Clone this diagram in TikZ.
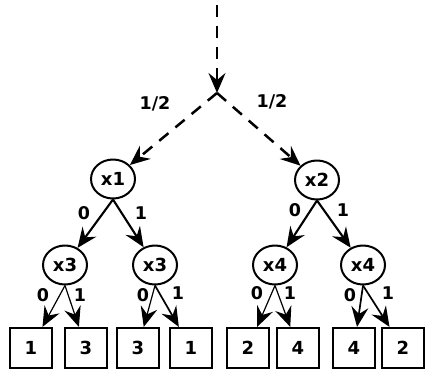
\documentclass[tikz,border=0pt]{standalone}
\usepackage{fontspec}
\setmainfont{DejaVu Sans}
\usetikzlibrary{arrows.meta,shapes.geometric}
\tikzset{
  var/.style={ellipse, draw, line width=2pt, minimum width=44pt, minimum height=39pt,
    inner sep=0pt, font=\fontsize{18}{18}\selectfont\bfseries},
  leaf/.style={rectangle, draw, line width=2.2pt, minimum width=42pt, minimum height=40pt,
    inner sep=0pt, font=\fontsize{18}{18}\selectfont\bfseries},
  lbl/.style={inner sep=0pt, font=\fontsize{17.5}{17.5}\selectfont\bfseries},
  bigarrow/.style={arrows={-Stealth[length=20pt,width=17pt,inset=7pt]}},
  prob/.style={bigarrow, line width=2.5pt, dash pattern=on 12pt off 9pt},
  thick edge/.style={bigarrow, line width=2.1pt},
  thin edge/.style={bigarrow, line width=1.2pt},
  mid edge/.style={bigarrow, line width=1.7pt}
}
\begin{document}
\begin{tikzpicture}[x=1pt,y=-1pt]
\useasboundingbox (0,0) rectangle (425,370);

% incoming edge and the chance split
\coordinate (top) at (217,5);
\coordinate (J) at (217,93);

% decision nodes
\node[var] (x1)  at (113,179) {x1};
\node[var] (x2)  at (317,180) {x2};
\node[var] (x3a) at (65,265)  {x3};
\node[var] (x3b) at (155,265) {x3};
\node[var] (x4a) at (275,265) {x4};
\node[var] (x4b) at (363,265) {x4};

% terminal values
\node[leaf] (l1) at (31,348)  {1};
\node[leaf] (l2) at (86,348)  {3};
\node[leaf] (l3) at (138,348) {3};
\node[leaf] (l4) at (191,348) {1};
\node[leaf] (l5) at (248,348) {2};
\node[leaf] (l6) at (298,348) {4};
\node[leaf] (l7) at (354,348) {4};
\node[leaf] (l8) at (403,348) {2};

% probabilistic branches
\draw[prob] (top) -- (J);
\draw[prob] (J) -- (x1);
\draw[prob] (J) -- (x2);
\node[lbl] (p1) at (155,104) {1/2};
\node[lbl] (p2) at (272,102) {1/2};

% first-level branches
\draw[thick edge] (x1.south) -- (x3a);
\draw[thick edge] (x1.south) -- (x3b);
\draw[thick edge] (x2.south) -- (x4a);
\draw[thick edge] (x2.south) -- (x4b);
\node[lbl] (e1) at (84,213)  {0};
\node[lbl] (e2) at (141,213) {1};
\node[lbl] (e3) at (295,210) {0};
\node[lbl] (e4) at (343,210) {1};

% second-level branches
\draw[thin edge] (x3a.south) -- (l1);
\draw[thin edge] (x3a.south) -- (l2);
\draw[thin edge] (x3b.south) -- (l3);
\draw[mid edge]  (x3b.south) -- (l4);
\draw[thin edge] (x4a.south) -- (l5);
\draw[thin edge] (x4a.south) -- (l6);
\draw[mid edge]  (x4b.south) -- (l7);
\draw[mid edge]  (x4b.south) -- (l8);
\node[lbl] (f1) at (43,295)  {0};
\node[lbl] (f2) at (80,295)  {1};
\node[lbl] (f3) at (143,295) {0};
\node[lbl] (f4) at (178,293) {1};
\node[lbl] (f5) at (257,293) {0};
\node[lbl] (f6) at (290,293) {1};
\node[lbl] (f7) at (350,295) {0};
\node[lbl] (f8) at (388,293) {1};
\end{tikzpicture}
\end{document}
